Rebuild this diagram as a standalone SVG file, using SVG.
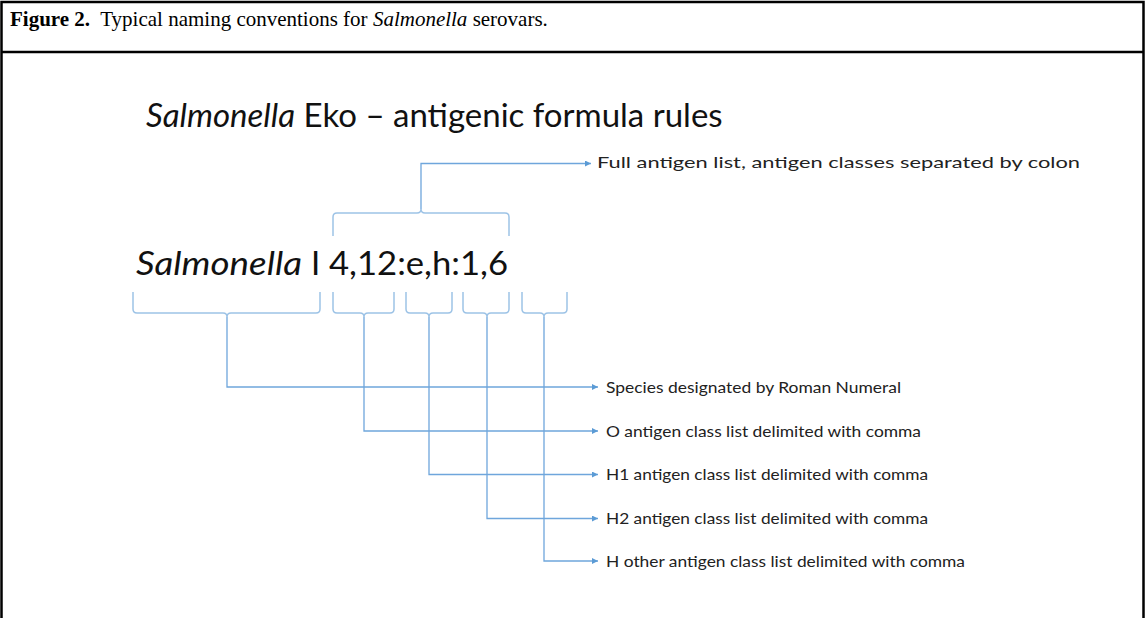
<svg xmlns="http://www.w3.org/2000/svg" width="1146" height="618" viewBox="0 0 1146 618">
  <defs>
    <style>
      .frame { fill: none; stroke: #000; stroke-width: 2.5; }
      .cap { font-family: "Liberation Serif", "Times New Roman", serif; font-size: 21px; fill: #000; }
      .title { font-family: Lato, "Open Sans", sans-serif; font-size: 33px; fill: #111; }
      .formula { font-family: Lato, "Open Sans", sans-serif; font-size: 33px; fill: #111; }
      .label { font-family: Lato, "Open Sans", sans-serif; font-size: 16px; fill: #222; }
      .brace { fill: none; stroke: #9dc3e6; stroke-width: 1.5; }
      .conn { fill: none; stroke: #6fa6dc; stroke-width: 1.3; }
    </style>
    <marker id="arrow" viewBox="0 0 6 6" refX="6" refY="3" markerWidth="6" markerHeight="6" markerUnits="userSpaceOnUse" orient="auto">
      <path d="M0,0 L6,3 L0,6 z" fill="#5b9bd5"/>
    </marker>
  </defs>

  <rect x="0" y="0" width="1146" height="618" fill="#fff"/>

  <!-- caption box: open at the bottom -->
  <path class="frame" d="M1.5,618 L1.5,2 L1143.5,2 L1143.5,618"/>
  <line class="frame" x1="1.5" y1="52" x2="1143.5" y2="52"/>
  <text class="cap" x="10" y="26" xml:space="preserve"><tspan font-weight="bold">Figure 2.</tspan>  Typical naming conventions for <tspan font-style="italic">Salmonella</tspan> serovars.</text>

  <!-- heading -->
  <g id="title">
    <text class="title" x="146" y="127"><tspan font-style="italic">Salmonella</tspan> Eko – antigenic formula rules</text>
  </g>

  <!-- antigenic formula -->
  <g id="formula">
    <text class="formula" x="136" y="275" font-style="italic" textLength="166" lengthAdjust="spacingAndGlyphs">Salmonella</text>
    <text class="formula" x="311" y="275">I</text>
    <text class="formula" x="329" y="275" textLength="179" lengthAdjust="spacingAndGlyphs">4,12:e,h:1,6</text>
  </g>

  <!-- braces -->
  <g id="braces">
    <path id="brace-full" class="brace" d="M333,236 L333,217 Q333,213 337,213 L417,213 Q421,213 421,209 Q421,213 425,213 L505,213 Q509,213 509,217 L509,236"/>
    <path id="brace-species" class="brace" d="M133,292 L133,309 Q133,313 137,313 L223,313 Q227,313 227,317 Q227,313 231,313 L316,313 Q320,313 320,309 L320,292"/>
    <path id="brace-o" class="brace" d="M333,292 L333,309 Q333,313 337,313 L360,313 Q364,313 364,317 Q364,313 368,313 L390,313 Q394,313 394,309 L394,292"/>
    <path id="brace-h1" class="brace" d="M406,292 L406,309 Q406,313 410,313 L425,313 Q429,313 429,317 Q429,313 433,313 L448,313 Q452,313 452,309 L452,292"/>
    <path id="brace-h2" class="brace" d="M463,292 L463,309 Q463,313 467,313 L483,313 Q487,313 487,317 Q487,313 491,313 L505,313 Q509,313 509,309 L509,292"/>
    <path id="brace-hother" class="brace" d="M522,292 L522,309 Q522,313 526,313 L540,313 Q544,313 544,317 Q544,313 548,313 L563,313 Q567,313 567,309 L567,292"/>
  </g>

  <!-- connectors -->
  <g id="connectors">
    <path class="conn" d="M421,209 L421,163.5 L591,163.5" marker-end="url(#arrow)"/>
    <path class="conn" d="M227,317 L227,387 L598,387" marker-end="url(#arrow)"/>
    <path class="conn" d="M364,317 L364,431 L598,431" marker-end="url(#arrow)"/>
    <path class="conn" d="M429,317 L429,474.5 L598,474.5" marker-end="url(#arrow)"/>
    <path class="conn" d="M487,317 L487,518.5 L598,518.5" marker-end="url(#arrow)"/>
    <path class="conn" d="M544,317 L544,561 L598,561" marker-end="url(#arrow)"/>
  </g>

  <!-- labels -->
  <g id="label-full"><text class="label" x="597" y="168" textLength="483" lengthAdjust="spacingAndGlyphs">Full antigen list, antigen classes separated by colon</text></g>
  <g id="label-species"><text class="label" x="606" y="393" textLength="295" lengthAdjust="spacingAndGlyphs">Species designated by Roman Numeral</text></g>
  <g id="label-o"><text class="label" x="606" y="437" textLength="315" lengthAdjust="spacingAndGlyphs">O antigen class list delimited with comma</text></g>
  <g id="label-h1"><text class="label" x="606" y="480" textLength="322" lengthAdjust="spacingAndGlyphs">H1 antigen class list delimited with comma</text></g>
  <g id="label-h2"><text class="label" x="606" y="524" textLength="322" lengthAdjust="spacingAndGlyphs">H2 antigen class list delimited with comma</text></g>
  <g id="label-hother"><text class="label" x="606" y="567" textLength="359" lengthAdjust="spacingAndGlyphs">H other antigen class list delimited with comma</text></g>
</svg>
